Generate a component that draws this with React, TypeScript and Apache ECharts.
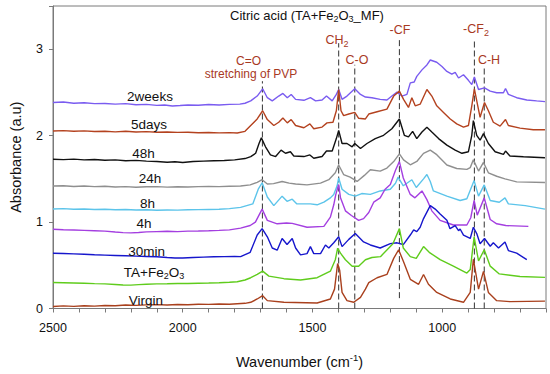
import React, { useEffect, useRef } from "react";
import * as echarts from "echarts";

// ---------- data ----------
const X_MAJOR_TICKS = [2500, 2000, 1500, 1000];
const Y_TICKS = [0, 1, 2, 3];

const seriesNames = ["2weeks", "5days", "48h", "24h", "8h", "4h", "30min", "TA+Fe2O3", "Virgin"];
const seriesColors = ["#7a5cf0", "#b4421f", "#111111", "#8f8f8f", "#5cc4ea", "#a43fe0", "#1616cc", "#5fcc1c", "#a9401d"];

const twoWeeks: [number, number][] = [
  [2500, 2.383], [2460, 2.39], [2420, 2.375], [2380, 2.38], [2340, 2.37], [2300, 2.372], [2260, 2.365], [2220, 2.37],
  [2180, 2.358], [2140, 2.362], [2100, 2.35], [2070, 2.355], [2040, 2.343], [2010, 2.348], [1980, 2.355], [1940, 2.352],
  [1900, 2.36], [1860, 2.355], [1820, 2.362], [1780, 2.365], [1760, 2.375],
  [1738, 2.402], [1713, 2.458], [1692, 2.542], [1674, 2.439], [1655, 2.402], [1630, 2.458], [1614, 2.489], [1597, 2.439],
  [1582, 2.477], [1565, 2.42], [1533, 2.409], [1508, 2.439], [1488, 2.402], [1463, 2.413], [1446, 2.458], [1424, 2.402],
  [1408, 2.477], [1399, 2.534], [1386, 2.42], [1367, 2.458], [1337, 2.542], [1315, 2.477], [1296, 2.447], [1271, 2.439],
  [1239, 2.42], [1213, 2.413], [1194, 2.458], [1174, 2.504], [1155, 2.458], [1136, 2.477], [1123, 2.61], [1108, 2.621],
  [1098, 2.686], [1078, 2.761], [1059, 2.818], [1046, 2.875], [1021, 2.849], [1001, 2.799], [982, 2.743], [963, 2.712],
  [950, 2.731], [937, 2.667], [918, 2.705], [899, 2.64], [886, 2.591], [876, 2.678], [860, 2.534], [837, 2.553],
  [815, 2.515], [790, 2.496], [764, 2.496], [756, 2.546], [745, 2.477], [713, 2.439], [674, 2.413], [636, 2.402], [604, 2.394],
];

const fiveDays: [number, number][] = [
  [2500, 2.053], [2460, 2.058], [2420, 2.05], [2380, 2.055], [2340, 2.048], [2300, 2.05], [2260, 2.044], [2220, 2.05],
  [2180, 2.042], [2140, 2.046], [2100, 2.04], [2060, 2.043], [2020, 2.038], [1980, 2.04], [1940, 2.034], [1900, 2.037],
  [1860, 2.032], [1820, 2.035], [1790, 2.03], [1760, 2.05],
  [1738, 2.117], [1713, 2.193], [1692, 2.288], [1674, 2.186], [1649, 2.117], [1630, 2.155], [1614, 2.205], [1597, 2.148],
  [1582, 2.186], [1565, 2.117], [1533, 2.091], [1510, 2.136], [1495, 2.08], [1463, 2.099], [1444, 2.148], [1421, 2.155],
  [1408, 2.288], [1399, 2.534], [1390, 2.288], [1380, 2.231], [1360, 2.25], [1337, 2.269], [1322, 2.201], [1296, 2.193],
  [1283, 2.25], [1251, 2.277], [1213, 2.307], [1187, 2.458], [1165, 2.515], [1149, 2.42], [1130, 2.326], [1117, 2.439],
  [1104, 2.345], [1085, 2.364], [1059, 2.534], [1040, 2.458], [1021, 2.345], [995, 2.269], [969, 2.193], [944, 2.136],
  [918, 2.099], [899, 2.117], [886, 2.345], [876, 2.542], [863, 2.345], [854, 2.212], [837, 2.383], [822, 2.288],
  [803, 2.155], [777, 2.11], [756, 2.186], [745, 2.117], [700, 2.087], [649, 2.068], [604, 2.068],
];

const h48: [number, number][] = [
  [2500, 1.727], [2460, 1.722], [2420, 1.728], [2380, 1.72], [2340, 1.724], [2300, 1.715], [2260, 1.72], [2220, 1.71],
  [2180, 1.714], [2140, 1.705], [2100, 1.70], [2060, 1.692], [2030, 1.698], [2000, 1.69], [1960, 1.70], [1920, 1.705],
  [1880, 1.71], [1840, 1.712], [1800, 1.72], [1760, 1.735],
  [1738, 1.758], [1719, 1.796], [1706, 1.909], [1697, 1.974], [1681, 1.871], [1662, 1.777], [1642, 1.758], [1621, 1.833],
  [1604, 1.796], [1585, 1.814], [1572, 1.765], [1533, 1.758], [1510, 1.777], [1495, 1.739], [1463, 1.758], [1446, 1.822],
  [1424, 1.822], [1408, 1.966], [1399, 2.061], [1386, 1.909], [1367, 1.909], [1347, 1.871], [1337, 1.909], [1315, 1.852],
  [1290, 1.909], [1258, 1.966], [1226, 2.004], [1194, 2.08], [1165, 2.193], [1146, 2.004], [1130, 1.985], [1114, 2.049],
  [1098, 1.966], [1078, 2.042], [1059, 2.098], [1040, 2.042], [1014, 1.966], [982, 1.89], [950, 1.833], [924, 1.796],
  [899, 1.814], [886, 2.004], [880, 2.174], [867, 2.004], [854, 1.947], [841, 2.023], [822, 1.909], [796, 1.814],
  [764, 1.784], [756, 1.822], [739, 1.765], [687, 1.755], [604, 1.745],
];

const h24: [number, number][] = [
  [2500, 1.417], [2460, 1.42], [2420, 1.412], [2380, 1.418], [2340, 1.41], [2300, 1.414], [2260, 1.406], [2220, 1.41],
  [2180, 1.403], [2140, 1.408], [2100, 1.41], [2060, 1.404], [2020, 1.408], [1980, 1.405], [1940, 1.41], [1900, 1.412],
  [1860, 1.41], [1820, 1.414], [1777, 1.417], [1740, 1.43],
  [1713, 1.46], [1694, 1.49], [1674, 1.44], [1650, 1.445], [1617, 1.47], [1590, 1.45], [1565, 1.44], [1521, 1.43],
  [1469, 1.45], [1437, 1.49], [1412, 1.57], [1399, 1.66], [1380, 1.55], [1355, 1.52], [1328, 1.47], [1300, 1.54],
  [1277, 1.605], [1239, 1.59], [1213, 1.625], [1187, 1.7], [1165, 1.79], [1149, 1.72], [1123, 1.663], [1098, 1.701],
  [1072, 1.795], [1046, 1.833], [1021, 1.78], [982, 1.66], [944, 1.62], [905, 1.61], [892, 1.63], [880, 1.72],
  [860, 1.59], [841, 1.69], [822, 1.57], [790, 1.53], [758, 1.5], [713, 1.465], [604, 1.458],
];

const h8: [number, number][] = [
  [2500, 1.151], [2460, 1.155], [2420, 1.148], [2380, 1.152], [2340, 1.145], [2300, 1.148], [2260, 1.142], [2220, 1.146],
  [2180, 1.14], [2140, 1.143], [2100, 1.137], [2060, 1.14], [2020, 1.138], [1980, 1.142], [1940, 1.144], [1900, 1.146],
  [1860, 1.148], [1820, 1.155], [1777, 1.17], [1730, 1.21],
  [1709, 1.38], [1694, 1.455], [1674, 1.29], [1649, 1.19], [1617, 1.3], [1598, 1.24], [1578, 1.265], [1560, 1.21],
  [1508, 1.21], [1482, 1.2], [1456, 1.23], [1431, 1.28], [1418, 1.32], [1405, 1.42], [1399, 1.51], [1386, 1.38],
  [1360, 1.32], [1335, 1.3], [1310, 1.33], [1277, 1.32], [1239, 1.36], [1200, 1.38], [1180, 1.45], [1170, 1.52],
  [1150, 1.42], [1117, 1.49], [1100, 1.4], [1072, 1.5], [1059, 1.55], [1046, 1.47], [1034, 1.36], [982, 1.3],
  [931, 1.25], [905, 1.27], [877, 1.48], [860, 1.3], [838, 1.43], [815, 1.25], [780, 1.23], [758, 1.28],
  [745, 1.21], [680, 1.19], [604, 1.15],
];

const h4: [number, number][] = [
  [2500, 0.917], [2460, 0.912], [2420, 0.908], [2380, 0.904], [2340, 0.9], [2300, 0.895], [2260, 0.885], [2230, 0.878],
  [2200, 0.875], [2170, 0.88], [2140, 0.886], [2100, 0.89], [2060, 0.893], [2020, 0.89], [1980, 0.895], [1940, 0.897],
  [1900, 0.9], [1860, 0.904], [1820, 0.91], [1777, 0.93], [1740, 0.96],
  [1720, 1.0], [1694, 1.15], [1674, 1.02], [1636, 0.98], [1600, 0.99], [1578, 0.985], [1521, 0.94], [1456, 0.95],
  [1431, 1.057], [1418, 1.2], [1410, 1.32], [1399, 1.435], [1392, 1.28], [1373, 1.13], [1350, 1.076], [1322, 1.02],
  [1303, 1.04], [1283, 1.11], [1264, 1.23], [1239, 1.28], [1220, 1.38], [1200, 1.435], [1180, 1.6], [1165, 1.70],
  [1150, 1.51], [1123, 1.32], [1105, 1.28], [1078, 1.36], [1059, 1.26], [1040, 1.13], [1008, 1.02], [957, 0.966],
  [905, 0.966], [890, 1.05], [877, 1.25], [865, 1.08], [838, 1.28], [815, 1.03], [790, 0.98], [755, 0.96], [668, 0.95],
];

const min30: [number, number][] = [
  [2500, 0.64], [2460, 0.636], [2420, 0.632], [2380, 0.628], [2340, 0.622], [2300, 0.618], [2260, 0.614], [2220, 0.61],
  [2180, 0.606], [2140, 0.602], [2100, 0.598], [2060, 0.59], [2030, 0.585], [2000, 0.584], [1960, 0.59], [1920, 0.594],
  [1880, 0.598], [1840, 0.6], [1800, 0.603], [1777, 0.6], [1740, 0.65],
  [1713, 0.85], [1694, 0.924], [1674, 0.83], [1655, 0.7], [1636, 0.675], [1617, 0.81], [1598, 0.74], [1578, 0.81],
  [1565, 0.7], [1546, 0.62], [1521, 0.635], [1508, 0.716], [1495, 0.635], [1469, 0.635], [1450, 0.735], [1437, 0.7],
  [1418, 0.76], [1399, 0.83], [1386, 0.716], [1360, 0.8], [1335, 0.867], [1303, 0.77], [1277, 0.735], [1239, 0.7],
  [1200, 0.75], [1174, 0.76], [1150, 0.74], [1123, 0.85], [1110, 0.91], [1098, 0.89], [1085, 0.94], [1072, 1.04],
  [1046, 1.19], [1027, 1.15], [1008, 1.094], [982, 1.02], [970, 0.924], [950, 0.96], [937, 0.9], [931, 0.92],
  [918, 0.85], [892, 0.81], [880, 0.94], [866, 0.86], [854, 0.75], [837, 0.81], [815, 0.72], [803, 0.76],
  [783, 0.7], [758, 0.77], [745, 0.67], [713, 0.64], [674, 0.565],
];

const taFe2O3: [number, number][] = [
  [2500, 0.30], [2460, 0.298], [2420, 0.295], [2380, 0.292], [2340, 0.288], [2300, 0.285], [2260, 0.278], [2230, 0.272],
  [2200, 0.27], [2170, 0.276], [2140, 0.28], [2100, 0.285], [2060, 0.287], [2020, 0.29], [1980, 0.29], [1940, 0.293],
  [1900, 0.295], [1860, 0.298], [1820, 0.303], [1790, 0.31], [1760, 0.33],
  [1738, 0.356], [1713, 0.394], [1692, 0.432], [1668, 0.375], [1610, 0.345], [1546, 0.33], [1482, 0.356], [1431, 0.432],
  [1412, 0.564], [1403, 0.697], [1392, 0.64], [1373, 0.564], [1347, 0.489], [1322, 0.489], [1296, 0.564], [1271, 0.59],
  [1238, 0.6], [1190, 0.75], [1165, 0.924], [1150, 0.7], [1123, 0.6], [1100, 0.58], [1072, 0.716], [1050, 0.65],
  [1008, 0.565], [957, 0.49], [905, 0.41], [892, 0.45], [877, 0.83], [860, 0.55], [838, 0.68], [815, 0.49],
  [780, 0.4], [700, 0.37], [604, 0.36],
];

const virgin: [number, number][] = [
  [2500, 0.023], [2460, 0.03], [2420, 0.025], [2380, 0.032], [2340, 0.028], [2300, 0.035], [2260, 0.032], [2220, 0.04],
  [2180, 0.036], [2140, 0.042], [2100, 0.045], [2060, 0.04], [2020, 0.047], [1980, 0.044], [1940, 0.05], [1900, 0.048],
  [1860, 0.052], [1820, 0.05], [1790, 0.055], [1760, 0.06],
  [1738, 0.072], [1713, 0.11], [1692, 0.148], [1674, 0.091], [1610, 0.072], [1482, 0.064], [1431, 0.11], [1415, 0.224],
  [1403, 0.52], [1395, 0.44], [1386, 0.186], [1367, 0.091], [1341, 0.072], [1315, 0.129], [1296, 0.224], [1283, 0.299],
  [1251, 0.356], [1213, 0.394], [1187, 0.58], [1168, 0.68], [1149, 0.54], [1123, 0.337], [1091, 0.28], [1072, 0.394],
  [1053, 0.28], [1021, 0.186], [969, 0.11], [918, 0.072], [892, 0.186], [880, 0.57], [860, 0.224], [841, 0.43],
  [822, 0.186], [790, 0.091], [739, 0.08], [604, 0.085],
];

const seriesData = [twoWeeks, fiveDays, h48, h24, h8, h4, min30, taFe2O3, virgin];

// band assignment lines (dashed)
const bandWavenumbers = [1693, 1399, 1337, 1165, 876, 838];
const bandTops = [2.63, 3.07, 2.82, 3.125, 3.1, 2.8];
const bandBottoms = [0, 0, 0, 0.12, 0, 0];

// ---------- layout / style ----------
const FONT = "Liberation Sans, Arial, sans-serif";
const ANNO = "#a8391f";

const seriesLabelPos: [number, number][] = [
  [150, 96], [149, 124], [143.5, 153], [150, 178], [147.5, 203.5], [144, 223], [146.7, 251], [154, 272.5], [146, 300],
];

export default function App() {
  const ref = useRef<HTMLDivElement>(null);
  useEffect(() => {
    if (!ref.current) return;
    const chart = echarts.init(ref.current, undefined, { renderer: "svg" });

    const spectra = seriesNames.map((name, i) => ({
      name,
      type: "line",
      data: seriesData[i],
      showSymbol: false,
      symbol: "none",
      lineStyle: { color: seriesColors[i], width: 1.4 },
      z: 3,
    }));

    const bands = bandWavenumbers.map((wn, i) => ({
      name: "band" + i,
      type: "line",
      data: [[wn, bandBottoms[i]], [wn, bandTops[i]]],
      showSymbol: false,
      symbol: "none",
      lineStyle: { color: "#333", width: 1, type: [6, 3] },
      z: 2,
    }));

    const main = { fontSize: 13, fontFamily: FONT, lineHeight: 16 };
    const sub = { fontSize: 9, fontFamily: FONT, lineHeight: 9, verticalAlign: "bottom" };

    const txt = (x: number, y: number, text: string, color: string, size = 13, rich?: any) => ({
      type: "text",
      x,
      y,
      z: 10,
      style: {
        text,
        fill: color,
        font: `${size}px ${FONT}`,
        fontSize: size,
        fontFamily: FONT,
        align: "center",
        verticalAlign: "middle",
        rich,
      },
    });

    const seriesLabelTexts = ["2weeks", "5days", "48h", "24h", "8h", "4h", "30min", "{m|TA+Fe}{s|2}{m|O}{s|3}", "Virgin"];

    const graphics: any[] = [
      txt(307, 15.5, "{m|Citric acid (TA+Fe}{s|2}{m|O}{s|3}{m|_MF)}", "#111", 13, {
        m: { ...main, fill: "#111", fontSize: 13 },
        s: { ...sub, fill: "#111" },
      }),
      txt(248.5, 61, "C=O", ANNO, 12),
      txt(251, 73.5, "stretching of PVP", ANNO, 12),
      txt(337, 40, "{m|CH}{s|2}", ANNO, 12, { m: { ...main, fontSize: 12.5, fill: ANNO }, s: { ...sub, fill: ANNO } }),
      txt(357, 60, "C-O", ANNO, 12.5),
      txt(400, 30, "-CF", ANNO, 12.5),
      txt(476, 29, "{m|-CF}{s|2}", ANNO, 12.5, { m: { ...main, fontSize: 12.5, fill: ANNO }, s: { ...sub, fill: ANNO } }),
      txt(489, 60, "C-H", ANNO, 12.5),
      ...seriesLabelTexts.map((t, i) =>
        txt(seriesLabelPos[i][0], seriesLabelPos[i][1], t, "#111", 13.5, {
          m: { ...main, fontSize: 13.5, fill: "#111" },
          s: { ...sub, fill: "#111" },
        })
      ),
    ];

    chart.setOption({
      animation: false,
      backgroundColor: "#fff",
      grid: { left: 52, right: 4, top: 6, bottom: 61, show: true, borderColor: "#7a7a7a", borderWidth: 1, containLabel: false },
      xAxis: {
        type: "value",
        inverse: true,
        min: 600,
        max: 2500,
        interval: 100,
        name: "{a|Wavenumber (cm}{b|-1}{a|)}",
        nameLocation: "middle",
        nameGap: 44,
        nameTextStyle: {
          rich: {
            a: { fontSize: 14.5, fontFamily: FONT, color: "#111", lineHeight: 18 },
            b: { fontSize: 9.5, fontFamily: FONT, color: "#111", lineHeight: 10, verticalAlign: "top" },
          },
        },
        axisLine: { show: true, lineStyle: { color: "#7a7a7a", width: 1 } },
        axisTick: { show: true, inside: false, length: 4, lineStyle: { color: "#7a7a7a" } },
        axisLabel: {
          interval: 0,
          margin: 13,
          color: "#111",
          fontSize: 12.5,
          fontFamily: FONT,
          formatter: (v: number) => (X_MAJOR_TICKS.includes(v) ? String(v) : ""),
        },
        splitLine: { show: false },
      },
      yAxis: {
        type: "value",
        min: 0,
        max: 3.5,
        interval: 1,
        name: "Absorbance (a.u)",
        nameLocation: "middle",
        nameGap: 30,
        nameTextStyle: { fontSize: 14.5, fontFamily: FONT, color: "#111" },
        axisLine: { show: true, lineStyle: { color: "#7a7a7a", width: 1 } },
        axisTick: { show: true, inside: false, length: 4, lineStyle: { color: "#7a7a7a" } },
        axisLabel: {
          margin: 10,
          color: "#111",
          fontSize: 12.5,
          fontFamily: FONT,
          formatter: (v: number) => (Y_TICKS.includes(v) ? String(v) : ""),
        },
        splitLine: { show: false },
      },
      series: [...bands, ...spectra],
      graphic: graphics,
    });

    return () => chart.dispose();
  }, []);

  return <div ref={ref} style={{ position: "absolute", left: 0, top: 0, width: 550, height: 374 }} />;
}
